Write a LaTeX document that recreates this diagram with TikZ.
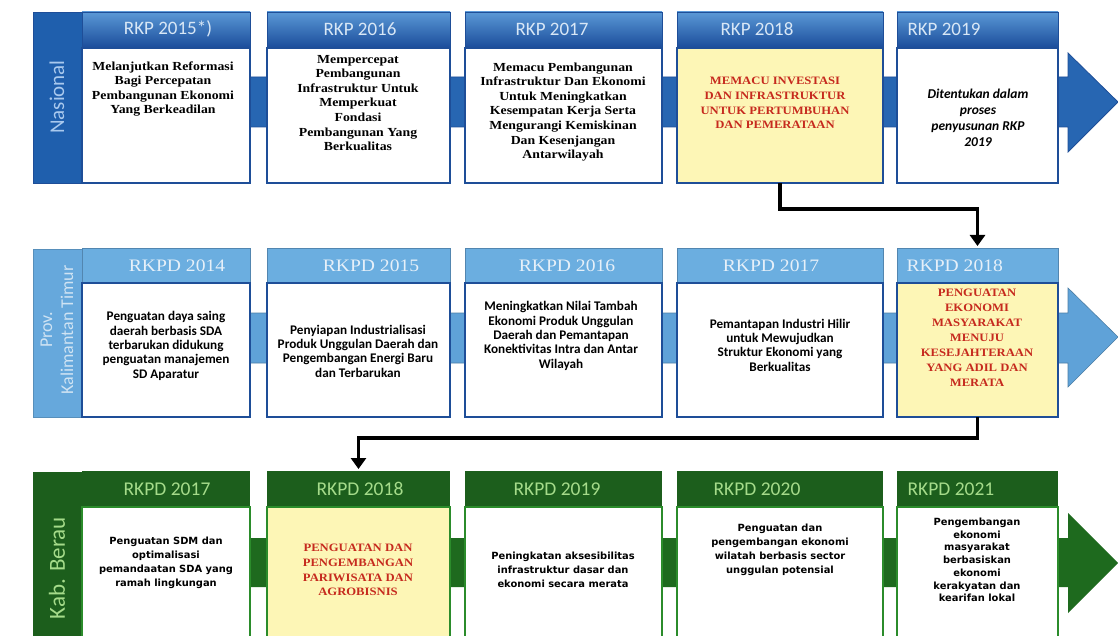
\documentclass[tikz,border=0pt]{standalone}
\usepackage{fontspec}
\setmainfont{Liberation Serif}
\newfontfamily\serifw[FakeStretch=1.12]{Liberation Serif}
\newfontfamily\carlito{Carlito}
\newfontfamily\dejavu{DejaVu Sans}
\usetikzlibrary{arrows.meta}
\definecolor{nbar}{HTML}{1F5FAD}
\definecolor{nhtop}{HTML}{5A98D6}
\definecolor{nhbot}{HTML}{1A4C9A}
\definecolor{nhtext}{HTML}{D8E7F6}
\definecolor{nbarText}{HTML}{A9C9EE}
\definecolor{nborder}{HTML}{1E4E98}
\definecolor{nband}{HTML}{2766B2}
\definecolor{pbar}{HTML}{66A8DC}
\definecolor{phdr}{HTML}{6BAEE0}
\definecolor{phtext}{HTML}{E6F0F9}
\definecolor{pbarText}{HTML}{CFE3F3}
\definecolor{pband}{HTML}{5FA2D8}
\definecolor{kgreen}{HTML}{1C5E1C}
\definecolor{kband}{HTML}{1E6A1E}
\definecolor{kborder}{HTML}{2B8C2B}
\definecolor{ktext}{HTML}{A5DB8A}
\definecolor{yel}{HTML}{FDF6B6}
\definecolor{redt}{HTML}{C62A1E}
\newcommand\bx[6]{\node[#1, minimum width={(#4)-(#2)}, minimum height={(#5)-(#3)}] (#6) at (#2,#3) {};}
\tikzset{
  rect/.style={anchor=north west, inner sep=0pt, outer sep=0pt},
  hdrN/.style={rect, top color=nhtop, bottom color=nhbot, draw=nborder, line width=0.8pt},
  hdrP/.style={rect, fill=phdr, draw=pbar!80!black, line width=0.6pt},
  hdrK/.style={rect, fill=kgreen},
  bodyN/.style={rect, fill=white, draw=nborder, line width=1.6pt},
  bodyK/.style={rect, fill=white, draw=kborder, line width=1.8pt},
  hN/.style={text=nhtext, font=\carlito\fontsize{19}{19}\selectfont},
  hP/.style={text=phtext, font=\serifw\fontsize{17.5}{18}\selectfont},
  hK/.style={text=ktext, font=\carlito\fontsize{19.5}{19}\selectfont},
  tN/.style={align=center, font=\serifw\fontsize{12.3}{14.6}\selectfont\bfseries},
  tP/.style={align=center, font=\carlito\fontsize{13.2}{14.3}\selectfont\bfseries},
  tK/.style={align=center, font=\dejavu\fontsize{9.9}{14}\selectfont\bfseries},
  tR/.style={align=center, text=redt, font=\serifw\fontsize{11.3}{14.7}\selectfont\bfseries},
  conn/.style={draw=black, line width=3.5pt, -{Triangle[width=15pt,length=11pt]}, shorten >=2pt}
}
\begin{document}
\begin{tikzpicture}[x=1pt,y=-1pt]
\useasboundingbox (0,0) rectangle (1118,636);
\fill[white] (0,0) rectangle (1118,636);
% ===== Row 1 Nasional =====
\fill[nband, draw=nborder, line width=0.8pt] (245,77) -- (1068,77) -- (1068,53) -- (1118,102) -- (1068,152) -- (1068,127) -- (245,127) -- cycle;
\bx{rect, fill=nbar, draw=nborder, line width=0.8pt}{33}{12}{82}{183}{barN}
\node[rotate=90, text=nbarText, font=\carlito\fontsize{21}{21}\selectfont] (labN) at (57,97) {Nasional};
\bx{hdrN}{82}{12}{250}{48}{h11}
\bx{hdrN}{267}{12}{450}{48}{h12}
\bx{hdrN}{465}{12}{662}{48}{h13}
\bx{hdrN}{677}{12}{883}{48}{h14}
\bx{hdrN}{897}{12}{1058}{48}{h15}
\bx{bodyN}{82}{48}{250}{183}{b11}
\bx{bodyN}{267}{48}{450}{183}{b12}
\bx{bodyN}{465}{48}{662}{183}{b13}
\bx{bodyN, fill=yel}{677}{48}{883}{183}{b14}
\bx{bodyN}{897}{48}{1058}{183}{b15}
\node[hN] (l11) at (168,29) {RKP 2015*)};
\node[hN] (l12) at (360,29) {RKP 2016};
\node[hN] (l13) at (552,29) {RKP 2017};
\node[hN] (l14) at (757,29) {RKP 2018};
\node[hN, anchor=west] (l15) at (904,29) {RKP 2019};
\node[tN] (t11) at (163,89) {Melanjutkan Reformasi\\Bagi Percepatan\\Pembangunan Ekonomi\\Yang Berkeadilan};
\node[tN] (t12) at (358,103) {Mempercepat\\Pembangunan\\Infrastruktur Untuk\\Memperkuat\\Fondasi\\Pembangunan Yang\\Berkualitas};
\node[tN] (t13) at (563,112) {Memacu Pembangunan\\Infrastruktur Dan Ekonomi\\Untuk Meningkatkan\\Kesempatan Kerja Serta\\Mengurangi Kemiskinan\\Dan Kesenjangan\\Antarwilayah};
\node[tR] (t14) at (775,103) {MEMACU INVESTASI\\DAN INFRASTRUKTUR\\UNTUK PERTUMBUHAN\\DAN PEMERATAAN};
\node[align=center, font=\carlito\fontsize{13.5}{16}\selectfont\bfseries\itshape] (t15) at (978,118) {Ditentukan dalam\\proses\\penyusunan RKP\\2019};
% ===== Row 2 Prov =====
\fill[pband, draw=pbar!75!black, line width=0.6pt] (245,313) -- (1068,313) -- (1068,288) -- (1118,337) -- (1068,387) -- (1068,363) -- (245,363) -- cycle;
\bx{rect, fill=pbar, draw=pbar!85!black, line width=0.6pt}{33}{249}{82}{417}{barP}
\node[rotate=90, align=center, text=pbarText, font=\carlito\fontsize{18}{21}\selectfont] (labP) at (57,330) {Prov.\\Kalimantan Timur};
\bx{hdrP}{82}{248}{250}{283}{h21}
\bx{hdrP}{267}{248}{450}{283}{h22}
\bx{hdrP}{465}{248}{662}{283}{h23}
\bx{hdrP}{677}{248}{883}{283}{h24}
\bx{hdrP}{897}{248}{1058}{283}{h25}
\bx{bodyN}{82}{283}{250}{417}{b21}
\bx{bodyN}{267}{283}{450}{417}{b22}
\bx{bodyN}{465}{283}{662}{417}{b23}
\bx{bodyN}{677}{283}{883}{417}{b24}
\bx{bodyN, fill=yel}{897}{283}{1058}{417}{b25}
\node[hP] (l21) at (177,266) {RKPD 2014};
\node[hP] (l22) at (371,266) {RKPD 2015};
\node[hP] (l23) at (567,266) {RKPD 2016};
\node[hP] (l24) at (771,266) {RKPD 2017};
\node[hP, anchor=west] (l25) at (903,266) {RKPD 2018};
\node[tP] (t21) at (166,346) {Penguatan daya saing\\daerah berbasis SDA\\terbarukan didukung\\penguatan manajemen\\SD Aparatur};
\node[tP] (t22) at (358,351) {Penyiapan Industrialisasi\\Produk Unggulan Daerah dan\\Pengembangan Energi Baru\\dan Terbarukan};
\node[tP] (t23) at (561,336) {Meningkatkan Nilai Tambah\\Ekonomi Produk Unggulan\\Daerah dan Pemantapan\\Konektivitas Intra dan Antar\\Wilayah};
\node[tP] (t24) at (780,345) {Pemantapan Industri Hilir\\untuk Mewujudkan\\Struktur Ekonomi yang\\Berkualitas};
\node[tR, font=\serifw\fontsize{11.3}{15}\selectfont\bfseries] (t25) at (977,338) {PENGUATAN\\EKONOMI\\MASYARAKAT\\MENUJU\\KESEJAHTERAAN\\YANG ADIL DAN\\MERATA};
% ===== Row 3 Kab. Berau =====
\fill[kband] (245,538) -- (1068,538) -- (1068,513) -- (1118,563) -- (1068,613) -- (1068,587) -- (245,587) -- cycle;
\bx{rect, fill=kgreen}{33}{472}{82}{645}{barK}
\node[rotate=90, text=ktext, font=\carlito\fontsize{23}{23}\selectfont] (labK) at (57,568) {Kab. Berau};
\bx{hdrK}{82}{471}{250}{507}{h31}
\bx{hdrK}{267}{471}{450}{507}{h32}
\bx{hdrK}{465}{471}{662}{507}{h33}
\bx{hdrK}{677}{471}{883}{507}{h34}
\bx{hdrK}{897}{471}{1058}{507}{h35}
\bx{bodyK}{82}{507}{250}{645}{b31}
\bx{bodyK, fill=yel}{267}{507}{450}{645}{b32}
\bx{bodyK}{465}{507}{662}{645}{b33}
\bx{bodyK}{677}{507}{883}{645}{b34}
\bx{bodyK}{897}{507}{1058}{645}{b35}
\node[hK] (l31) at (167,489) {RKPD 2017};
\node[hK] (l32) at (360,489) {RKPD 2018};
\node[hK] (l33) at (557,489) {RKPD 2019};
\node[hK] (l34) at (757,489) {RKPD 2020};
\node[hK, anchor=west] (l35) at (904,489) {RKPD 2021};
\node[tK] (t31) at (166,563) {Penguatan SDM dan\\optimalisasi\\pemandaatan SDA yang\\ramah lingkungan};
\node[tR] (t32) at (358,570) {PENGUATAN DAN\\PENGEMBANGAN\\PARIWISATA DAN\\AGROBISNIS};
\node[tK] (t33) at (563,570) {Peningkatan aksesibilitas\\infrastruktur dasar dan\\ekonomi secara merata};
\node[tK] (t34) at (780,550) {Penguatan dan\\pengembangan ekonomi\\wilatah berbasis sector\\unggulan potensial};
\node[tK, font=\dejavu\fontsize{9.9}{12.7}\selectfont\bfseries] (t35) at (977,560) {Pengembangan\\ekonomi\\masyarakat\\berbasiskan\\ekonomi\\kerakyatan dan\\kearifan lokal};
% ===== connectors =====
\draw[conn] (b14.south) -- ++(0,26) -| (h25.north);
\draw[conn] (b25.south) -- ++(0,21) -| (h32.north);
\end{tikzpicture}
\end{document}
